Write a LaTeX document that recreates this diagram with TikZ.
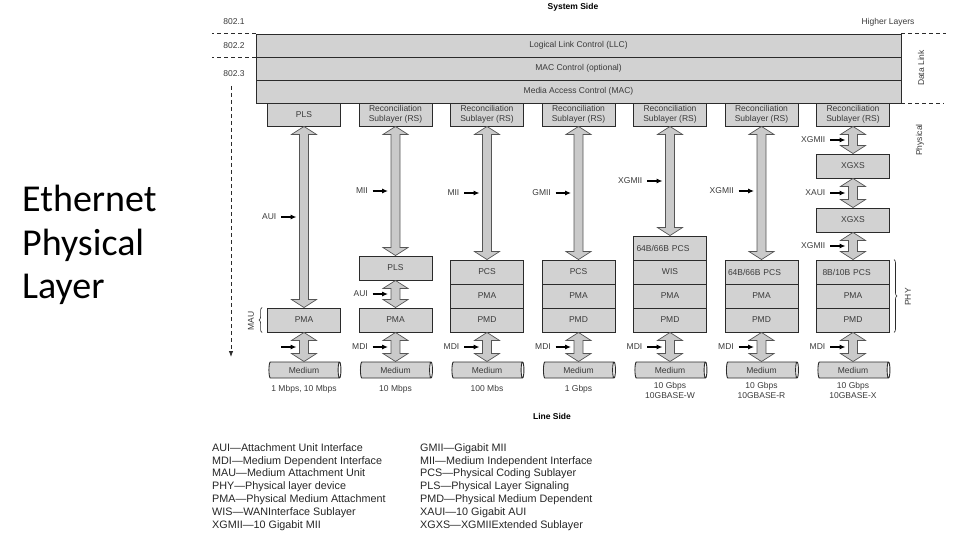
\documentclass[tikz,border=0pt]{standalone}
\usepackage{fontspec}
\setmainfont{Liberation Sans}
\newfontfamily\titlefont{Carlito}
\usetikzlibrary{arrows.meta, shapes.geometric, calc, decorations.pathreplacing}
\definecolor{boxFill}{HTML}{D2D2D2}
\definecolor{boxLine}{HTML}{2B2B2B}
\definecolor{labelText}{HTML}{3A3A3A}
\definecolor{arrowFill}{HTML}{CACACA}
\definecolor{arrowLine}{HTML}{555555}

\newcommand\labfont{\fontsize{8.5}{10}\selectfont}

\tikzset{
  lay/.style={draw=boxLine, fill=boxFill, line width=0.9pt, minimum width=73pt,
    minimum height=24pt, inner sep=0pt, align=center},
  wide/.style={minimum width=645pt, minimum height=23pt},
  topbox/.style={lay, minimum height=23pt},
  pcsl/.style={lay, text width=67pt, align=left},
  medium/.style={cylinder, shape border rotate=0, aspect=0.45, draw=boxLine,
    line width=0.9pt, cylinder uses custom fill, cylinder body fill=boxFill,
    cylinder end fill=white, minimum height=72pt, minimum width=16pt, inner sep=0pt},
  fatarrow/.style={draw=arrowLine, fill=arrowFill, line width=0.7pt},
  ifarrow/.style={line width=1.1pt, -{Latex[length=6pt,width=5pt]}, shorten <=3pt},
  dashline/.style={line width=0.8pt, dash pattern=on 4pt off 3pt, boxLine},
  side/.style={font=\bfseries\fontsize{8.5}{10}\selectfont, text=black},
  spd/.style={anchor=north, inner sep=0pt, align=center},
  legend/.style={anchor=base west, inner sep=0pt, font=\fontsize{10.8}{12}\selectfont, text=black!85},
  brc/.style={decorate, decoration={brace, amplitude=3pt}, line width=0.6pt, boxLine}
}

% hollow double arrow between two anchors (same x)
\newcommand\fatarr[2]{%
  \draw[fatarrow] let \p1=(#1), \p2=(#2) in
    (\x1,\y1) -- ++(12.5pt,-8pt) -- ++(-8pt,0pt) -- (\x1+4.5pt,\y2+8pt) -- ++(8pt,0pt)
    -- (\x1,\y2) -- ++(-12.5pt,8pt) -- ++(8pt,0pt) -- (\x1-4.5pt,\y1-8pt) -- ++(-8pt,0pt) -- cycle;}

% interface label with a small arrow pointing at the shaft
\newcommand\iface[4]{%
  \coordinate (#1tip) at (#2-7.5,#3);
  \node[anchor=east, inner sep=1.5pt] (#1) at (#2-26,#3) {#4};
  \draw[ifarrow] (#1.east) -- (#1tip);}

\begin{document}
\begin{tikzpicture}[x=1pt, y=-1pt, every node/.style={font=\labfont, text=labelText}]
  \useasboundingbox (0,0) rectangle (960,540);

  \node[anchor=north west, align=left, inner sep=0pt, text=black,
    font={\titlefont\fontsize{38}{43.5}\selectfont}] (title) at (22,185) {Ethernet\\Physical\\Layer};

  % sides and standards
  \node[side] (sys) at (573,7) {System Side};
  \node[side] (line) at (552,416) {Line Side};
  \node (std1) at (234,22) {802.1};
  \node (std2) at (234,46) {802.2};
  \node (std3) at (234,74) {802.3};
  \node (higher) at (888,22) {Higher Layers};

  % data link stack
  \node[lay, wide] (llc) at (578.5,45.5) {Logical Link Control (LLC)};
  \node[lay, wide] (macc) at (578.5,68.5) {MAC Control (optional)};
  \node[lay, wide] (mac) at (578.5,91.5) {Media Access Control (MAC)};
  \draw[dashline] (llc.north west) -- ++(-44,0);
  \draw[dashline] (llc.south west) -- ++(-44,0);
  \draw[dashline] (llc.north east) -- ++(45,0);
  \draw[dashline] (mac.south east) -- ++(43,0);
  \node[rotate=90] (dlink) at (921,68) {Data Link};
  \node[rotate=90] (phys) at (920,140) {Physical};
  \coordinate (stTop) at (231,86);
  \coordinate (stBot) at (231,357);
  \draw[dashline, -{Latex[length=6pt,width=4.5pt]}] (stTop) -- (stBot);

  % column 1
  \node[topbox] (top1) at (304,114.5) {PLS};
  \node[lay] (pma1) at (304,320) {PMA};
  \node[medium] (med1) at (304,370) {Medium};
  \node[spd] (spd1) at (304,385) {1 Mbps, 10 Mbps};
  \fatarr{top1.south}{pma1.north}
  \fatarr{pma1.south}{pma1.south |- med1.north}
  \iface{aui1}{304}{217}{AUI}
  \iface{mdi1}{304}{347}{}
  \draw[brc] ([xshift=-5pt]pma1.south west) -- ([xshift=-5pt]pma1.north west);
  \node[rotate=90] (mau) at (251,321) {MAU};

  % column 2
  \node[topbox] (top2) at (395.5,114.5) {Reconciliation\\Sublayer (RS)};
  \node[lay] (pls2) at (395.5,268) {PLS};
  \node[lay] (pma2) at (395.5,320) {PMA};
  \node[medium] (med2) at (395.5,370) {Medium};
  \node[spd] (spd2) at (395.5,385) {10 Mbps};
  \fatarr{top2.south}{pls2.north}
  \fatarr{pls2.south}{pma2.north}
  \fatarr{pma2.south}{pma2.south |- med2.north}
  \iface{mii2}{395.5}{191}{MII}
  \iface{aui2}{395.5}{294}{AUI}
  \iface{mdi2}{395.5}{347}{MDI}

  % column 3
  \node[topbox] (top3) at (487,114.5) {Reconciliation\\Sublayer (RS)};
  \node[lay] (pcs3) at (487,272) {PCS};
  \node[lay] (pma3) at (487,296) {PMA};
  \node[lay] (pmd3) at (487,320) {PMD};
  \node[medium] (med3) at (487,370) {Medium};
  \node[spd] (spd3) at (487,385) {100 Mbs};
  \fatarr{top3.south}{pcs3.north}
  \fatarr{pmd3.south}{pmd3.south |- med3.north}
  \iface{mii3}{487}{193}{MII}
  \iface{mdi3}{487}{347}{MDI}

  % column 4
  \node[topbox] (top4) at (578.5,114.5) {Reconciliation\\Sublayer (RS)};
  \node[lay] (pcs4) at (578.5,272) {PCS};
  \node[lay] (pma4) at (578.5,296) {PMA};
  \node[lay] (pmd4) at (578.5,320) {PMD};
  \node[medium] (med4) at (578.5,370) {Medium};
  \node[spd] (spd4) at (578.5,385) {1 Gbps};
  \fatarr{top4.south}{pcs4.north}
  \fatarr{pmd4.south}{pmd4.south |- med4.north}
  \iface{gmii4}{578.5}{193}{GMII}
  \iface{mdi4}{578.5}{347}{MDI}

  % column 5
  \node[topbox] (top5) at (670,114.5) {Reconciliation\\Sublayer (RS)};
  \node[pcsl] (pcs5) at (670,248) {64B/66B PCS};
  \node[lay] (wis5) at (670,272) {WIS};
  \node[lay] (pma5) at (670,296) {PMA};
  \node[lay] (pmd5) at (670,320) {PMD};
  \node[medium] (med5) at (670,370) {Medium};
  \node[spd] (spd5) at (670,382) {10 Gbps\\10GBASE-W};
  \fatarr{top5.south}{pcs5.north}
  \fatarr{pmd5.south}{pmd5.south |- med5.north}
  \iface{xgmii5}{670}{181}{XGMII}
  \iface{mdi5}{670}{347}{MDI}

  % column 6
  \node[topbox] (top6) at (761.5,114.5) {Reconciliation\\Sublayer (RS)};
  \node[pcsl] (pcs6) at (761.5,272) {64B/66B PCS};
  \node[lay] (pma6) at (761.5,296) {PMA};
  \node[lay] (pmd6) at (761.5,320) {PMD};
  \node[medium] (med6) at (761.5,370) {Medium};
  \node[spd] (spd6) at (761.5,382) {10 Gbps\\10GBASE-R};
  \fatarr{top6.south}{pcs6.north}
  \fatarr{pmd6.south}{pmd6.south |- med6.north}
  \iface{xgmii6}{761.5}{191}{XGMII}
  \iface{mdi6}{761.5}{347}{MDI}

  % column 7
  \node[topbox] (top7) at (853,114.5) {Reconciliation\\Sublayer (RS)};
  \node[lay] (xgxsA) at (853,166) {XGXS};
  \node[lay] (xgxsB) at (853,220) {XGXS};
  \node[pcsl] (pcs7) at (853,272) {\hspace{3pt}8B/10B PCS};
  \node[lay] (pma7) at (853,296) {PMA};
  \node[lay] (pmd7) at (853,320) {PMD};
  \node[medium] (med7) at (853,370) {Medium};
  \node[spd] (spd7) at (853,382) {10 Gbps\\10GBASE-X};
  \fatarr{top7.south}{xgxsA.north}
  \fatarr{xgxsA.south}{xgxsB.north}
  \fatarr{xgxsB.south}{pcs7.north}
  \fatarr{pmd7.south}{pmd7.south |- med7.north}
  \iface{xgmii7a}{853}{140}{XGMII}
  \iface{xaui7}{853}{193}{XAUI}
  \iface{xgmii7b}{853}{246}{XGMII}
  \iface{mdi7}{853}{347}{MDI}
  \draw[brc] ([xshift=4pt]pcs7.north east) -- ([xshift=4pt]pmd7.south east);
  \node[rotate=90] (phy) at (908,297) {PHY};

  % legend
  \foreach \t [count=\k] in {AUI—Attachment Unit Interface, MDI—Medium Dependent Interface,
      MAU—Medium Attachment Unit, PHY—Physical layer device, PMA—Physical Medium Attachment,
      WIS—WANInterface Sublayer, XGMII—10 Gigabit MII}
    \node[legend] (legL\k) at (212,438.5+12.8*\k) {\t};
  \foreach \t [count=\k] in {GMII—Gigabit MII, MII—Medium Independent Interface,
      PCS—Physical Coding Sublayer, PLS—Physical Layer Signaling, PMD—Physical Medium Dependent,
      XAUI—10 Gigabit AUI, XGXS—XGMIIExtended Sublayer}
    \node[legend] (legR\k) at (420,438.5+12.8*\k) {\t};
\end{tikzpicture}
\end{document}
